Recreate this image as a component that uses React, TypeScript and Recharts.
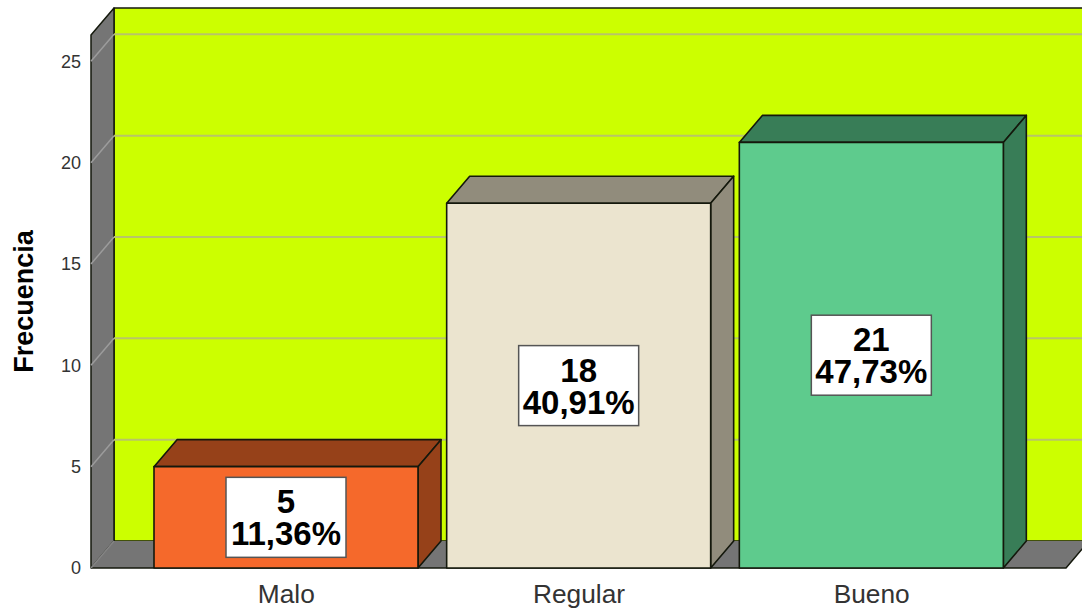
import React from "react";
import { BarChart, Bar, XAxis, YAxis, CartesianGrid, LabelList, usePlotArea } from "recharts";

const categories = ["Malo", "Regular", "Bueno"];
const counts = [5, 18, 21];
const percentLabels = ["11,36%", "40,91%", "47,73%"];
const yTicks = [0, 5, 10, 15, 20, 25];
const frontColors = ["#F5692B", "#EBE4CF", "#5ECB8D"];
const sideColors = ["#964119", "#918C7C", "#387D57"];

const rows = categories.map((name, i) => ({ name, count: counts[i], percent: percentLabels[i], index: i }));

const DEPTH_X = 23;
const DEPTH_Y = 27;
const FONT = '"Liberation Sans", Arial, sans-serif';
const EDGE = "#14180c";

// Left wall, floor and back wall of the 3D box.
function Walls() {
  const p = usePlotArea();
  if (!p) return null;
  const { x, y, width, height } = p;
  const r = x + width;
  const b = y + height;
  const pts = (a: number[][]) => a.map((q) => q.join(",")).join(" ");
  return (
    <g strokeLinejoin="round">
      <rect x={x + DEPTH_X} y={y - DEPTH_Y} width={width} height={height} fill="#CCFF00" stroke={EDGE} strokeWidth={1.5} />
      <polygon fill="#757575" stroke={EDGE} strokeWidth={1.5} points={pts([[x, y], [x + DEPTH_X, y - DEPTH_Y], [x + DEPTH_X, b - DEPTH_Y], [x, b]])} />
      <polygon fill="#757575" points={pts([[x, b], [x + DEPTH_X, b - DEPTH_Y], [r + DEPTH_X, b - DEPTH_Y], [r, b]])} />
      <polyline fill="none" stroke={EDGE} strokeWidth={1.5} points={pts([[x, b], [r, b], [r + DEPTH_X, b - DEPTH_Y]])} />
    </g>
  );
}

// Grid line that climbs the left wall and then runs across the back wall.
// The frame already closes the top of the box, and the floor closes the bottom.
function gridLine(props: any) {
  const { x1, x2, y1, y, height, key } = props;
  if (y1 <= y + 0.5) return <g key={key} />;
  const atZero = y1 >= y + height - 0.5;
  const backY = y1 - DEPTH_Y;
  return (
    <g key={key} fill="none">
      <line x1={x1} y1={y1} x2={x1 + DEPTH_X} y2={backY} stroke={atZero ? "#858585" : "#9C9C9C"} strokeWidth={1.5} />
      {!atZero && <line x1={x1 + DEPTH_X} y1={backY} x2={x2 + DEPTH_X} y2={backY} stroke="#B8C46A" strokeWidth={2} />}
    </g>
  );
}

function Box3D(props: any) {
  const { x, y, width, height, index } = props;
  const r = x + width;
  const b = y + height;
  const top = `${x},${y} ${x + DEPTH_X},${y - DEPTH_Y} ${r + DEPTH_X},${y - DEPTH_Y} ${r},${y}`;
  const side = `${r},${y} ${r + DEPTH_X},${y - DEPTH_Y} ${r + DEPTH_X},${b - DEPTH_Y} ${r},${b}`;
  return (
    <g stroke={EDGE} strokeWidth={1.6} strokeLinejoin="round">
      <polygon points={top} fill={sideColors[index]} />
      <polygon points={side} fill={sideColors[index]} />
      <rect x={x} y={y} width={width} height={height} fill={frontColors[index]} />
    </g>
  );
}

// White box holding the count and its share, centred on the bar's front face.
function ValueBox(props: any) {
  const { x, y, width, height, index } = props;
  const cx = x + width / 2;
  const cy = y + height / 2;
  return (
    <g>
      <rect x={cx - 60} y={cy - 40} width={120} height={80} fill="#fff" stroke="#555" strokeWidth={1.5} />
      <text textAnchor="middle" fontFamily={FONT} fontWeight={700} fontSize={33} fill="#000">
        <tspan x={cx} y={cy - 4}>{counts[index]}</tspan>
        <tspan x={cx} y={cy + 28}>{percentLabels[index]}</tspan>
      </text>
    </g>
  );
}

export default function App() {
  return (
    <div style={{ position: "absolute", left: 0, top: 0 }}>
      <BarChart
        width={1082}
        height={611}
        data={rows}
        margin={{ left: 0, right: 16, top: 35, bottom: 0 }}
        barSize={264}
      >
        <Walls />
        <CartesianGrid vertical={false} horizontal={gridLine} zIndex={100} />
        <XAxis
          dataKey="name"
          axisLine={false}
          tickLine={false}
          height={43}
          padding={{ left: 49, right: 48 }}
          tick={{ fontFamily: FONT, fontSize: 26.3, fill: "#333" }}
          tickMargin={10}
          interval={0}
        />
        <YAxis
          width={91}
          domain={[0, 26.3]}
          ticks={yTicks}
          axisLine={false}
          tickLine={false}
          tickMargin={4}
          tick={{ fontFamily: FONT, fontSize: 18, fill: "#333" }}
          label={{
            value: "Frecuencia",
            angle: -90,
            position: "insideLeft",
            offset: 23,
            style: { fontFamily: FONT, fontSize: 27, fontWeight: 700, fill: "#000", textAnchor: "middle" },
          }}
        />
        <Bar dataKey="count" shape={Box3D} isAnimationActive={false}>
          <LabelList dataKey="count" content={ValueBox} />
        </Bar>
      </BarChart>
    </div>
  );
}
